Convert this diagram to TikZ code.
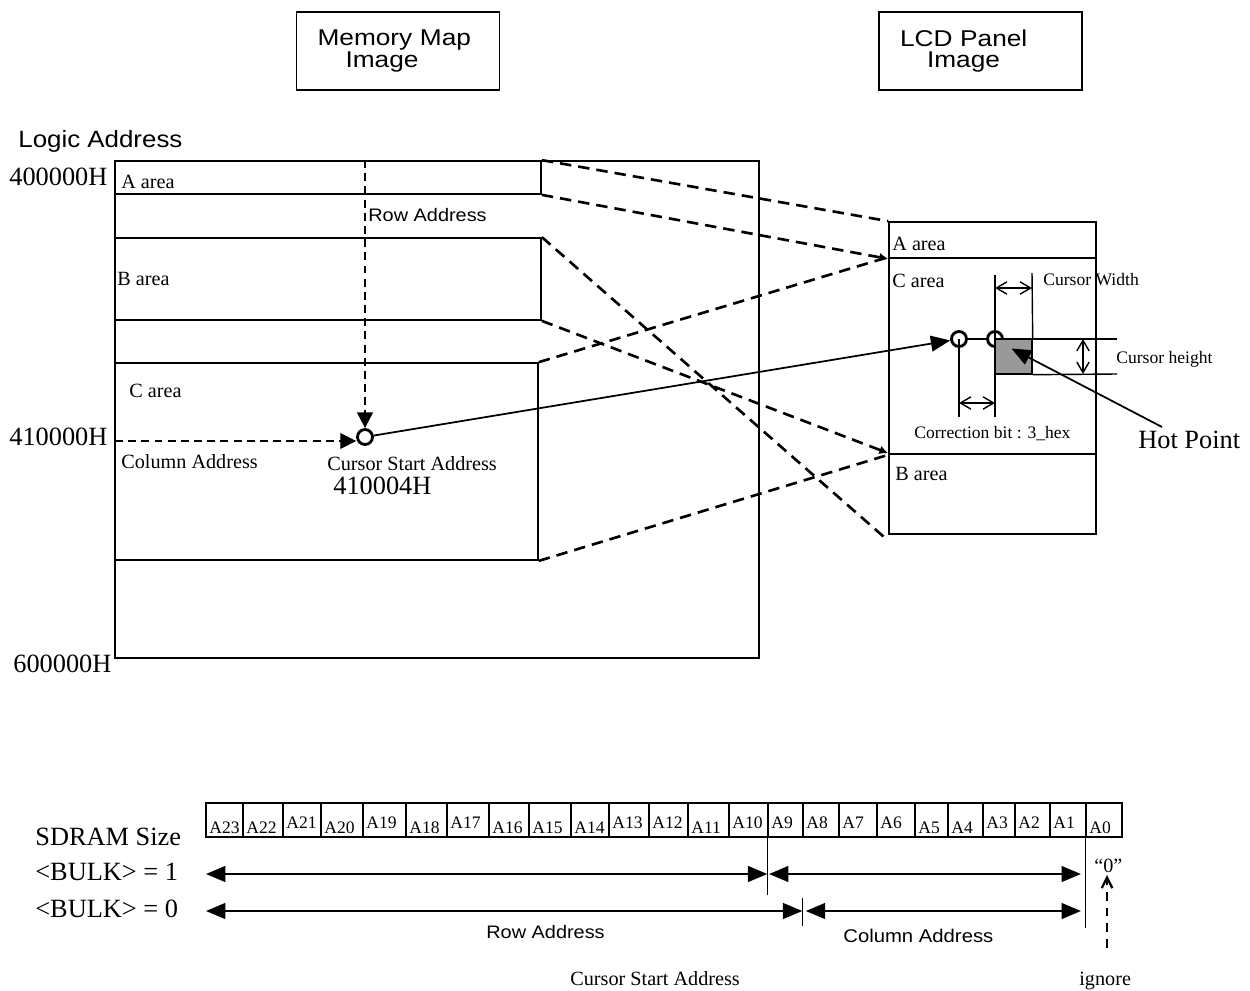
\documentclass[tikz,border=0pt]{standalone}
\usepackage{fontspec}
\setmainfont{Liberation Serif}
\newfontfamily\hsans[FakeStretch=1.1]{Liberation Sans}
\newfontfamily\wsans[FakeStretch=1.15]{Liberation Sans}
\usetikzlibrary{arrows.meta,positioning,calc}

\begin{document}
\begin{tikzpicture}[
    x=0.02cm, y=-0.02cm,
    area/.style={draw, line width=1pt, inner sep=0pt},
    title/.style={draw, line width=0.8pt, inner ysep=0pt, inner xsep=0.42cm, text width=3.22cm, minimum height=1.56cm, align=left, font=\wsans\fontsize{13}{11.6}\selectfont},
    lbl/.style={anchor=base west, inner sep=0pt},
    big/.style={lbl, font=\fontsize{15}{18}\selectfont},
    mid/.style={lbl, font=\fontsize{11.5}{14}\selectfont},
    small/.style={lbl, font=\fontsize{10}{12}\selectfont},
    sans/.style={lbl, font=\hsans\fontsize{10.3}{12}\selectfont},
    ring/.style={circle, draw, line width=1.6pt, minimum size=0.3cm, inner sep=0pt},
    cell/.style={draw, line width=0.8pt, minimum height=0.68cm, inner sep=0pt},
    map/.style={line width=1.5pt, dash pattern=on 6.5pt off 4pt},
    guide/.style={dash pattern=on 4.5pt off 3pt, -{Triangle[length=9pt,width=9pt]}},
    bigarrow/.style={line width=1pt, -{Triangle[length=11pt,width=9pt]}},
    span/.style={line width=1pt, {Triangle[length=11pt,width=9pt]}-{Triangle[length=11pt,width=9pt]}},
    dim/.style={line width=0.8pt, {Straight Barb[length=6pt,width=7pt]}-{Straight Barb[length=6pt,width=7pt]}},
    thin/.style={line width=0.8pt}
]
\useasboundingbox (0,0) rectangle (1250,990);

% titles
\node[title] (memtitle) at (398,51) {Memory Map\\\hspace*{0.56cm}Image};
\node[title] (lcdtitle) at (980.5,51) {LCD Panel\\\hspace*{0.54cm}Image};

% memory map
\node[lbl, font=\hsans\fontsize{13.4}{16}\selectfont] (logic) at (18,147) {Logic Address};
\node[area, minimum width=12.88cm, minimum height=9.94cm] (mem) at (437,409.5) {};
\node[area, minimum width=8.52cm, minimum height=0.66cm] (memA) at (328,177.5) {};
\node[area, minimum width=8.52cm, minimum height=1.64cm] (memB) at (328,279) {};
\node[area, minimum width=8.46cm, minimum height=3.94cm] (memC) at (326.5,461.5) {};

\node[big] (adr4) at (9,185) {400000H};
\node[big] (adr41) at (9,445) {410000H};
\node[big] (adr6) at (13,672) {600000H};
\node[mid] at (121,188) {A area};
\node[mid] at (117,285) {B area};
\node[mid] at (129,397) {C area};
\node[sans] (rowlbl) at (368,221) {Row Address};
\node[mid] (collbl) at (121,468) {Column Address};
\node[mid] (csalbl) at (327,470) {Cursor Start Address};
\node[big] (csaval) at (333,494) {410004H};

% lcd panel
\node[area, minimum width=4.14cm, minimum height=0.72cm] (lcdA) at (992.5,240) {};
\node[area, minimum width=4.14cm, minimum height=3.92cm] (lcdC) at (992.5,356) {};
\node[area, minimum width=4.14cm, minimum height=1.6cm] (lcdB) at (992.5,494) {};
\node[mid] at (892,250) {A area};
\node[mid] at (892,287) {C area};
\node[mid] at (895,480) {B area};

\draw[map] (memA.north east) -- (lcdA.north west);
\draw[map, -{Latex[length=5pt,width=5pt]}] (memA.south east) -- (lcdA.south west);
\draw[map] (memB.north east) -- ($(lcdB.south west)+(-2,4)$);
\draw[map, -{Latex[length=5pt,width=5pt]}] (memB.south east) -- (lcdB.north west);
\draw[map] (memC.north east) -- (lcdC.north west);
\draw[map] (memC.south east) -- (lcdC.south west);

% cursor start
\node[ring] (csa) at (365,437) {};
\coordinate (rowtop) at (csa |- memA.north);
\coordinate (colleft) at (115,441);
\draw[guide, line width=1.2pt] (rowtop) -- (csa.north);
\draw[guide, line width=0.8pt] (colleft) -- (colleft -| csa.west);

% cursor on panel
\node[ring] (c1) at (959,339) {};
\node[ring] (c2) at (995,339) {};
\node[draw, thin, fill=gray!80, minimum width=0.74cm, minimum height=0.7cm, inner sep=0pt] (curs) at (1013.5,356.5) {};
\draw[thin] (c1.east) -- (c2.west);
\draw[thin] (c2.east) -- (1117,339);
\draw[thin] (curs.south east) -- (1117,374);
\draw[thin] (995,275) -- (995,417);
\draw[thin] (curs.north east) -- (1032,273);
\draw[thin] (c1.center) -- (959,417);
\draw[dim] (995,288) -- (1032,288);
\draw[dim] (1083,339) -- (1083,374);
\draw[dim] (959,403) -- (995,403);
\node[small] at (1043,285) {Cursor Width};
\node[small] at (1116,363) {Cursor height};
\node[small] at (914,438) {Correction bit : 3\_hex};

\draw[bigarrow] (csa) -- (c1);

\node[big] (hot) at (1138,448) {Hot Point};
\coordinate (hotfrom) at (1162,427);
\draw[bigarrow] (hotfrom) -- ($(curs.center)+(-2,-8)$);

% sdram bits
\foreach \l/\r/\n/\up in {206/243/23/0, 243/283/22/0, 283/321/21/1, 321/363/20/0, 363/406/19/1, 406/447/18/0, 447/489/17/1, 489/529/16/0, 529/571/15/0, 571/609/14/0, 609/649/13/1, 649/688/12/1, 688/729/11/0, 729/768/10/1, 768/803/9/1, 803/839/8/1, 839/877/7/1, 877/915/6/1, 915/948/5/0, 948/983/4/0, 983/1015/3/1, 1015/1050/2/1, 1050/1086/1/1, 1086/1122/0/0} {
  \node[cell, minimum width={(\r-\l)*0.02cm}] (cell\n) at ({(\l+\r)/2},820) {};
  \node[small] at (\l+3,833-5*\up) {A\n};
}

\node[big] (sdram) at (35,845) {SDRAM Size};
\node[big] (bulk1) at (35,880) {<BULK> = 1};
\node[big] (bulk0) at (35,917) {<BULK> = 0};

\draw[thin] (cell9.south west) -- ++(0,57);
\draw[thin] (cell0.south west) -- ++(0,90);
\draw[thin] ($(cell8.south west)+(0,60)$) -- ++(0,28);

\coordinate (r1) at (206,874);
\coordinate (r0) at (206,911);
\draw[span] (r1) -- (r1 -| cell9.west);
\draw[span, shorten <=1pt, shorten >=2.5pt] (r1 -| cell9.west) -- (r1 -| cell0.west);
\draw[span] (r0) -- (r0 -| cell8.west);
\draw[span, shorten <=2pt, shorten >=2.5pt] (r0 -| cell8.west) -- (r0 -| cell0.west);

\node[sans] at (486,938) {Row Address};
\node[lbl, font=\hsans\fontsize{10.5}{12}\selectfont] at (843,942) {Column Address};
\node[mid] (csaddr) at (570,985) {Cursor Start Address};

\node[mid] (zero) at (1094,872) {“0”};
\node[mid] (ign) at (1079,985) {ignore};
\coordinate (ignfrom) at (1107,948);
\coordinate (ignto) at (1107,875);
\draw[line width=1.3pt, dash pattern=on 5pt off 4pt, -{Straight Barb[length=6pt,width=6pt]}] (ignfrom) -- (ignto);

\end{tikzpicture}
\end{document}
